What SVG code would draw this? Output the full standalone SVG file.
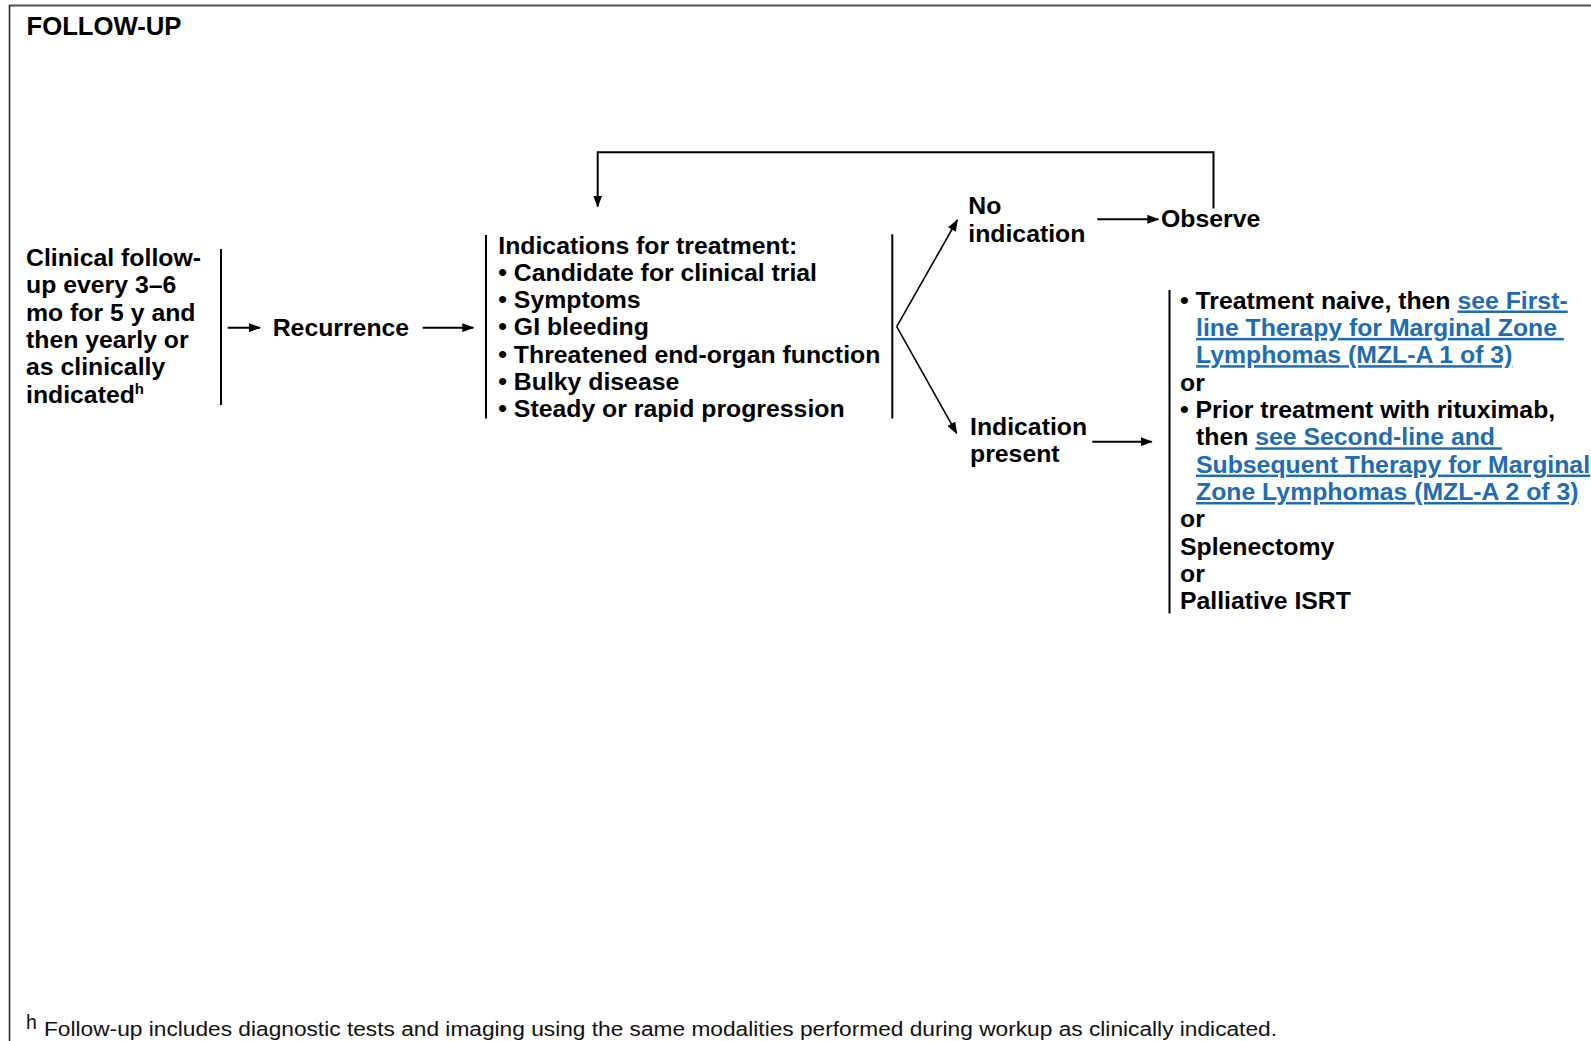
<svg xmlns="http://www.w3.org/2000/svg" width="1591" height="1041" viewBox="0 0 1591 1041">
  <style>
    .t { font-family: "Liberation Sans", Arial, Helvetica, sans-serif; font-weight: bold; font-size: 24.8px; fill: #000; }
    .title { font-size: 25.7px; }
    .link { fill: #1f6cb0; text-decoration: underline; }
    .sup { font-size: 15px; }
    .note { font-family: "Liberation Sans", Arial, Helvetica, sans-serif; font-weight: normal; font-size: 19.5px; fill: #111; }
    .bar { stroke: #000; stroke-width: 2; fill: none; }
    .conn { stroke: #000; stroke-width: 2; fill: none; }
    .diag { stroke: #000; stroke-width: 1.6; fill: none; }
  </style>
  <defs>
    <marker id="arrow" markerUnits="userSpaceOnUse" markerWidth="12" markerHeight="9" refX="11" refY="4.5" orient="auto">
      <path d="M0,0 L12,4.5 L0,9 Z" fill="#000"/>
    </marker>
  </defs>

  <rect width="1591" height="1041" fill="#fff"/>

  <!-- page frame -->
  <g id="frame">
    <line x1="9" y1="5.5" x2="1591" y2="5.5" stroke="#505050" stroke-width="2"/>
    <line x1="9.5" y1="5" x2="9.5" y2="1041" stroke="#222" stroke-width="1.5"/>
  </g>

  <g id="title">
    <text class="t title" x="26.5" y="35">FOLLOW-UP</text>
  </g>

  <g id="followup">
    <text class="t" x="26" y="265.8">Clinical follow-</text>
    <text class="t" x="26" y="293.2">up every 3–6</text>
    <text class="t" x="26" y="320.6">mo for 5 y and</text>
    <text class="t" x="26" y="348">then yearly or</text>
    <text class="t" x="26" y="375.4">as clinically</text>
    <text class="t" x="26" y="402.8">indicated<tspan class="sup" dy="-9">h</tspan></text>
    <line class="bar" x1="221" y1="249" x2="221" y2="405"/>
  </g>

  <g id="recurrence">
    <text class="t" x="272.7" y="336">Recurrence</text>
  </g>

  <g id="indications">
    <line class="bar" x1="486" y1="235" x2="486" y2="418.5"/>
    <text class="t" x="498.3" y="253.5">Indications for treatment:</text>
    <text class="t" x="498.3" y="280.8">• Candidate for clinical trial</text>
    <text class="t" x="498.3" y="308.1">• Symptoms</text>
    <text class="t" x="498.3" y="335.4">• GI bleeding</text>
    <text class="t" x="498.3" y="362.7">• Threatened end-organ function</text>
    <text class="t" x="498.3" y="390">• Bulky disease</text>
    <text class="t" x="498.3" y="417.3">• Steady or rapid progression</text>
    <line class="bar" x1="892.3" y1="234.3" x2="892.3" y2="418.5"/>
  </g>

  <g id="no-indication">
    <text class="t" x="968.3" y="214">No</text>
    <text class="t" x="968.3" y="241.7">indication</text>
  </g>

  <g id="observe">
    <text class="t" x="1161" y="227.3">Observe</text>
  </g>

  <g id="indication-present">
    <text class="t" x="970" y="435">Indication</text>
    <text class="t" x="970" y="461.5">present</text>
  </g>

  <g id="options">
    <line class="bar" x1="1169.5" y1="290" x2="1169.5" y2="613.5"/>
    <text class="t" x="1180" y="308.5" xml:space="preserve">• Treatment naive, then <tspan class="link">see First-</tspan></text>
    <text class="t link" x="1196" y="335.9" xml:space="preserve">line Therapy for Marginal Zone </text>
    <text class="t link" x="1196" y="363.2">Lymphomas (MZL-A 1 of 3)</text>
    <text class="t" x="1180" y="390.6">or</text>
    <text class="t" x="1180" y="417.9">• Prior treatment with rituximab,</text>
    <text class="t" x="1196" y="445.3" xml:space="preserve">then <tspan class="link">see Second-line and </tspan></text>
    <text class="t link" x="1196" y="472.6">Subsequent Therapy for Marginal</text>
    <text class="t link" x="1196" y="500">Zone Lymphomas (MZL-A 2 of 3)</text>
    <text class="t" x="1180" y="527.3">or</text>
    <text class="t" x="1180" y="554.7">Splenectomy</text>
    <text class="t" x="1180" y="582">or</text>
    <text class="t" x="1180" y="609.4">Palliative ISRT</text>
  </g>

  <g id="connectors">
    <line class="conn" x1="227.7" y1="327.7" x2="260" y2="327.7" marker-end="url(#arrow)"/>
    <line class="conn" x1="422.7" y1="327.7" x2="473.3" y2="327.7" marker-end="url(#arrow)"/>
    <line class="diag" x1="896.7" y1="326.7" x2="957.3" y2="220" marker-end="url(#arrow)"/>
    <line class="diag" x1="896.7" y1="326.7" x2="956.7" y2="433.3" marker-end="url(#arrow)"/>
    <line class="conn" x1="1097.3" y1="219.3" x2="1158.3" y2="219.3" marker-end="url(#arrow)"/>
    <line class="conn" x1="1092.3" y1="441.7" x2="1151.7" y2="441.7" marker-end="url(#arrow)"/>
    <path class="conn" d="M1213.5,208.5 V152.3 H597.7 V206.5" marker-end="url(#arrow)"/>
  </g>

  <g id="footnote">
    <text class="note" x="26" y="1028.5" font-size="14">h</text>
    <text class="note" x="44" y="1036" textLength="1233" lengthAdjust="spacingAndGlyphs">Follow-up includes diagnostic tests and imaging using the same modalities performed during workup as clinically indicated.</text>
  </g>
</svg>
